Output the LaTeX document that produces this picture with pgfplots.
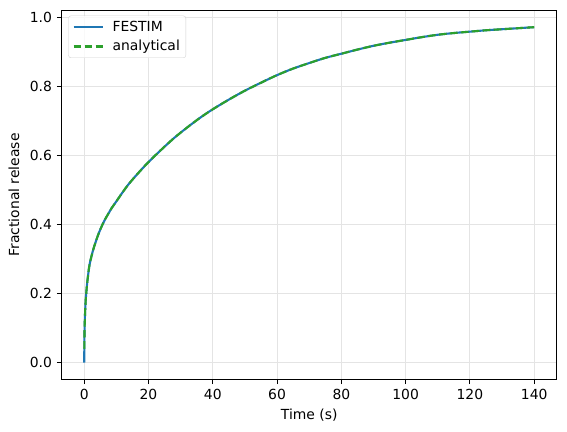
\documentclass[border=0pt]{standalone}
\usepackage{pgfplots}
\pgfplotsset{compat=1.18}
\usepackage{fontspec}
\setmainfont{DejaVu Sans}
\definecolor{mplblue}{HTML}{1F77B4}
\definecolor{mplgreen}{HTML}{2CA02C}
\definecolor{gridgray}{RGB}{228,228,228}

% (time in s, fractional release)
\pgfplotstableread{
t      F
0.0    0.000
0.05   0.050
0.1    0.089
0.2    0.125
0.3    0.150
0.45   0.178
0.63   0.200
0.9    0.228
1.2    0.252
1.56   0.278
2.0    0.298
2.8    0.327
3.66   0.352
4.5    0.374
5.5    0.396
6.5    0.415
7.8    0.436
8.5    0.447
10     0.467
12     0.494
14     0.519
17     0.551
20     0.581
24     0.617
28     0.651
32     0.681
36     0.709
40     0.734
45     0.762
50     0.788
55     0.811
60     0.833
65     0.852
70     0.868
75     0.883
80     0.895
85     0.907
90     0.918
95     0.927
100    0.935
105    0.943
110    0.950
115    0.955
120    0.959
125    0.963
130    0.966
135    0.969
140    0.972
}\festim

\pgfplotstableread{
t      F
0.02   0.040
0.05   0.050
0.1    0.089
0.2    0.125
0.3    0.150
0.45   0.178
0.63   0.200
0.9    0.228
1.2    0.252
1.56   0.278
2.0    0.298
2.8    0.327
3.66   0.352
4.5    0.374
5.5    0.396
6.5    0.415
7.8    0.436
8.5    0.447
10     0.467
12     0.494
14     0.519
17     0.551
20     0.581
24     0.617
28     0.651
32     0.681
36     0.709
40     0.734
45     0.762
50     0.788
55     0.811
60     0.833
65     0.852
70     0.868
75     0.883
80     0.895
85     0.907
90     0.918
95     0.927
100    0.935
105    0.943
110    0.950
115    0.955
120    0.959
125    0.963
130    0.966
135    0.969
140    0.972
}\analytical

\begin{document}
\fontsize{13.9bp}{16bp}\selectfont
\begin{tikzpicture}
\path[use as bounding box] (-61.7bp,-52.7bp) rectangle (505.3bp,379.3bp);
\begin{axis}[
	scale only axis,
	width=495bp,
	height=368.9bp,
	xmin=-7, xmax=147,
	ymin=-0.0486, ymax=1.0206,
	xtick={0,20,...,140},
	ytick={0,0.2,...,1.0},
	/pgf/number format/assume math mode=true,
	yticklabel style={/pgf/number format/.cd, fixed, fixed zerofill, precision=1},
	tick align=outside,
	major tick length=4.9bp,
	tick style={black, line width=1.1bp},
	axis line style={line width=1.1bp},
	xtick pos=bottom, ytick pos=left,
	grid=major,
	major grid style={gridgray, line width=1.1bp},
	font=\fontsize{13.9bp}{16bp}\selectfont,
	xlabel={Time (s)},
	ylabel={Fractional release},
	xlabel style={at={(axis description cs:0.5,-0.0968)}, anchor=center},
	ylabel style={at={(axis description cs:-0.0965,0.5)}, anchor=center, rotate=0},
	legend cell align=left,
	legend style={at={(0,1)}, anchor=north west, xshift=6.6bp, yshift=-5.2bp,
		draw=black!18, rounded corners=2.5pt, fill=white, fill opacity=0.8, text opacity=1,
		inner xsep=4pt, inner ysep=3pt, row sep=3bp,
		/tikz/every odd column/.append style={column sep=7bp},
		font=\fontsize{13.9bp}{16bp}\selectfont},
	legend image code/.code={\draw[#1] (0bp,0bp) -- (29bp,0bp);},
]
\addplot[mplblue, line width=2.1bp, smooth, tension=0.5] table[x=t, y=F] {\festim};
\addlegendentry{FESTIM}
\addplot[mplgreen, line width=2.1bp, dash pattern=on 7.7bp off 3.3bp, smooth, tension=0.5] table[x=t, y=F] {\analytical};
\addlegendentry{analytical}
\end{axis}
\end{tikzpicture}
\end{document}
